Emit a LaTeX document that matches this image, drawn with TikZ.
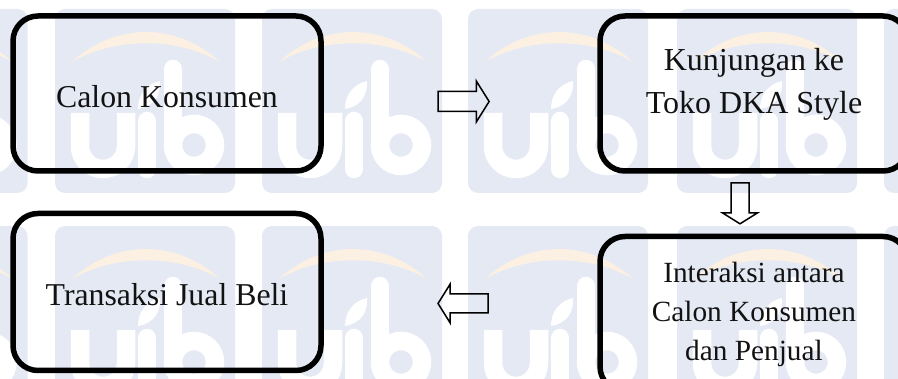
\documentclass[tikz,border=0pt]{standalone}
\usepackage{fontspec}
\setmainfont{Liberation Serif}
\usepackage{tikz}
\usetikzlibrary{positioning}
\usetikzlibrary{shapes.arrows}
\definecolor{tileblue}{RGB}{228,233,244}
\definecolor{tilepeach}{RGB}{252,240,226}
\tikzset{main box/.style={rectangle,draw=black,line width=5.5pt,rounded corners=25pt,minimum width=308pt,minimum height=155pt,inner sep=0pt,align=center,text=black!93},}
\tikzset{block arrow/.style={single arrow,draw=black,line width=1.5pt,inner sep=0pt,text depth=0pt,single arrow tip angle=116},}
\tikzset{logo stroke/.style={draw=white,line width=18.5pt},}
\newcommand{\logotile}{%
    \fill[tileblue] (0,0) [rounded corners=10pt] rectangle (180,184);
    \fill[tilepeach] (17,53) .. controls (60,13) and (122,13) .. (165,53) .. controls (122,28) and (60,28) .. (17,53);
    \draw[logo stroke] (25,104) -- (25,137) arc (180:360:23pt) -- (71,104);
    \draw[logo stroke,line cap=round] (92,112) -- (92,160);
    \fill[white] (83,100) .. controls (83,85) and (92,75) .. (105,72) .. controls (106,85) and (100,97) .. (83,100);
    \draw[logo stroke,line cap=round] (118,60) -- (118,136);
    \draw[logo stroke] (139,136) circle (21pt);
}

\begin{document}
\begin{tikzpicture}[x=1pt,y=-1pt]
    \path[clip,use as bounding box] (0,0) rectangle (898,379);

    \foreach \tx in {-152.5,55,262,468,677,884}
        \foreach \ty in {9,226} {
            \begin{scope}[shift={(\tx,\ty)}]
                \logotile
            \end{scope}
        }

    \node[main box,font=\fontsize{31.8}{38}\selectfont,text height=28pt,text depth=0pt] (calon) at (167,93.5) {Calon Konsumen};
    \node[main box,font=\fontsize{32}{43}\selectfont,text height=40pt,text depth=0pt] (kunjungan) [right = 273.5pt of calon] {Kunjungan ke\\Toko DKA Style};
    \node[main box,font=\fontsize{29.3}{39}\selectfont,text height=94pt,text depth=0pt] (interaksi) [below = 60pt of kunjungan] {Interaksi antara\\Calon Konsumen\\dan Penjual};
    \node[main box,minimum height=157pt,font=\fontsize{31.8}{38}\selectfont,text height=28pt,text depth=0pt] (transaksi) [below = 37pt of calon] {Transaksi Jual Beli};

    \node[block arrow,minimum height=51pt,text height=18.5pt,single arrow head extend=10.5pt] (arrowa) at (460.5,101.5) {};
    \node[block arrow,minimum height=41pt,text height=16.5pt,single arrow head extend=8.5pt,rotate=270] (arrowb) at (740,200.5) {};
    \node[block arrow,minimum height=50pt,text height=17.5pt,single arrow head extend=10pt,rotate=180] (arrowc) at (466,303.5) {};
\end{tikzpicture}
\end{document}
